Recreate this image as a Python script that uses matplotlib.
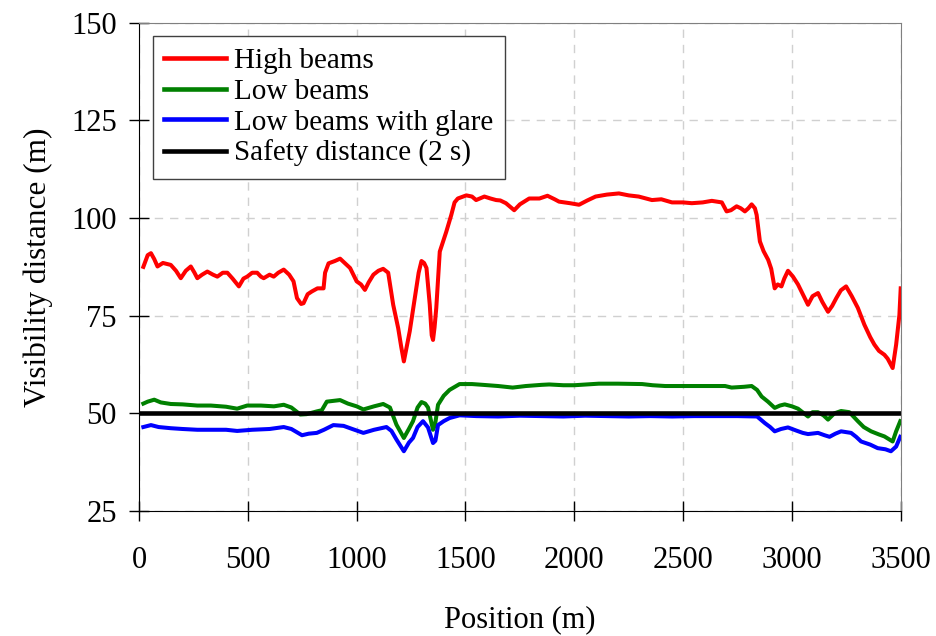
import matplotlib
matplotlib.use('Agg')
import matplotlib.pyplot as plt

plt.rcParams['font.family'] = ['Liberation Serif', 'DejaVu Serif']

# high beams (position m, visibility m)
high_x = [20, 40, 55, 70, 85, 110, 146, 170, 192, 215, 238, 255, 268, 290, 314, 340, 360, 385, 406, 430,
          459, 480, 497, 520, 543, 560, 573, 600, 619, 640, 665, 690, 710, 726, 745, 756, 775, 794, 820, 848,
          855, 871, 900, 924, 945, 970, 985, 1000, 1020, 1038, 1055, 1077, 1100, 1122, 1145, 1168, 1191, 1205,
          1217, 1230, 1244, 1267, 1285, 1298, 1310, 1321, 1336, 1345, 1351, 1358, 1366, 1382, 1412, 1435, 1450,
          1465, 1504, 1530, 1549, 1587, 1615, 1641, 1660, 1686, 1724, 1750, 1793, 1840, 1877, 1910, 1930, 1980,
          2022, 2060, 2098, 2150, 2205, 2250, 2296, 2357, 2400, 2449, 2500, 2540, 2590, 2632, 2678, 2700, 2720,
          2746, 2765, 2784, 2800, 2815, 2830, 2838, 2853, 2870, 2891, 2905, 2921, 2935, 2952, 2965, 2982, 3005,
          3028, 3050, 3074, 3095, 3120, 3140, 3166, 3185, 3204, 3225, 3249, 3275, 3303, 3333, 3360, 3379, 3400,
          3425, 3440, 3463, 3479, 3494, 3500]
high_y = [87.5, 90.5, 91, 89.5, 87.6, 88.5, 88, 86.5, 84.6, 86.5, 87.6, 86, 84.6, 85.5, 86.3, 85.5, 85, 86, 86, 84.5,
          82.5, 84.5, 85, 86, 86, 85, 84.6, 85.5, 85, 86, 86.8, 85.5, 83.8, 79.5, 78, 78.2, 80.5, 81.2, 82, 82,
          86, 88.4, 89, 89.6, 88.5, 87.2, 85.5, 83.8, 83, 81.6, 83.5, 85.5, 86.5, 87, 86, 77.8, 71.8, 67,
          63.3, 67, 71, 79.5, 86, 89, 88.5, 87.2, 77.8, 70, 68.8, 72, 77, 91.4, 96.5, 100.8, 104,
          105, 105.8, 105.5, 104.6, 105.5, 105, 104.6, 104.5, 103.8, 102, 103.5, 105, 105, 105.7, 104.8, 104.2, 103.8,
          103.4, 104.5, 105.5, 106, 106.3, 105.8, 105.5, 104.6, 104.8, 104, 104, 103.8, 104, 104.4, 104, 101.7, 102,
          103, 102.5, 101.7, 102.5, 103.5, 102.5, 100.8, 94, 91.5, 89.3, 87, 82, 83, 82.5, 84.5, 86.5, 85,
          83, 80.5, 77.8, 80, 80.8, 78.5, 76, 77.5, 79.5, 81.5, 82.5, 80, 77, 72.7, 69.5, 67.6, 66,
          65, 64, 61.6, 67.6, 75.2, 82]

# low beams
low_x = [20, 40, 70, 100, 146, 200, 268, 330, 400, 451, 497, 560, 620, 665, 700, 741, 770, 817, 840, 863,
         924, 960, 1000, 1031, 1080, 1122, 1153, 1183, 1217, 1240, 1259, 1280, 1298, 1315, 1328, 1351, 1360,
         1374, 1400, 1427, 1473, 1530, 1580, 1650, 1717, 1778, 1850, 1885, 1950, 2000, 2113, 2200, 2312, 2360,
         2418, 2550, 2693, 2723, 2780, 2815, 2840, 2861, 2890, 2921, 2945, 2967, 3000, 3028, 3074, 3095, 3120,
         3145, 3166, 3195, 3226, 3264, 3303, 3330, 3364, 3400, 3425, 3463, 3479, 3498]
low_y = [52.5, 53, 53.5, 52.8, 52.4, 52.3, 52, 52, 51.7, 51.2, 52, 52, 51.8, 52.2, 51.5, 49.7, 49.8, 50.5, 50.8, 53,
         53.4, 52.5, 51.8, 51, 51.8, 52.4, 51.5, 47.1, 43.7, 46, 48, 51.5, 52.9, 52.5, 51.5, 45.8, 47,
         52.2, 54.5, 56, 57.5, 57.5, 57.3, 57, 56.6, 57, 57.3, 57.4, 57.2, 57.2, 57.6, 57.6, 57.5, 57.2,
         57, 57, 57, 56.6, 56.8, 57, 56, 54.3, 53, 51.4, 52, 52.3, 51.8, 51.2, 49.2, 50.3, 50.3,
         49.5, 48.4, 50, 50.6, 50.3, 48, 46.5, 45.4, 44.6, 44.1, 42.8, 45.4, 48]

# low beams with glare
glare_x = [20, 55, 90, 146, 200, 268, 330, 400, 451, 520, 600, 665, 700, 749, 780, 817, 850, 893, 940, 980,
           1031, 1080, 1137, 1160, 1183, 1217, 1240, 1259, 1280, 1305, 1328, 1351, 1362, 1374, 1400, 1427, 1473,
           1550, 1650, 1750, 1850, 1950, 2050, 2150, 2250, 2350, 2450, 2550, 2650, 2750, 2840, 2876, 2900, 2921,
           2950, 2982, 3020, 3050, 3074, 3120, 3150, 3173, 3200, 3226, 3272, 3295, 3318, 3360, 3394, 3430, 3455,
           3479, 3498]
glare_y = [46.5, 47, 46.5, 46.2, 46, 45.8, 45.8, 45.8, 45.5, 45.8, 46, 46.5, 46, 44.4, 44.8, 45, 45.8, 47, 46.8, 46,
           45, 45.8, 46.5, 45.5, 43.3, 40.3, 42.5, 43.7, 46.5, 48, 46.4, 42.4, 43, 47, 48, 48.8, 49.5,
           49.3, 49.2, 49.4, 49.3, 49.2, 49.4, 49.3, 49.2, 49.3, 49.2, 49.3, 49.3, 49.3, 49.2, 47.5, 46.5, 45.4,
           46, 46.4, 45.6, 45, 44.7, 45, 44.4, 44, 44.8, 45.4, 45, 44, 42.8, 42, 41.1, 40.8, 40.3,
           41.5, 44]

safe_x = [0, 3500]
safe_y = [50, 50]

fig = plt.figure(figsize=(9.36, 6.36), dpi=100)
ax = fig.add_axes([0.1485, 0.1965, 0.8138, 0.7678])

ax.plot(high_x, high_y, color='#ff0000', lw=2.9, label='High beams')
ax.plot(low_x, low_y, color='#008000', lw=2.9, label='Low beams')
ax.plot(glare_x, glare_y, color='#0000ff', lw=2.9, label='Low beams with glare')
ax.plot(safe_x, safe_y, color='black', lw=3.3, label='Safety distance (2 s)')

ax.set_xlim(0, 3500)
ax.set_ylim(25, 150)
ax.set_xticks(range(0, 3501, 500))
ax.set_yticks(range(25, 151, 25))
ax.grid(True, color='#d0d0d0', linestyle=(0, (6, 5)), lw=1)
ax.set_axisbelow(True)

for s in ['top', 'right']:
    ax.spines[s].set_color('#808080')
for s in ['left', 'bottom']:
    ax.spines[s].set_color('black')
ax.tick_params(direction='inout', length=14, width=1, labelsize=22)
ax.tick_params(axis='x', pad=18)
ax.tick_params(axis='y', pad=9)

ax.set_xlabel('Position (m)', fontsize=22, labelpad=22)
ax.set_ylabel('Visibility distance (m)', fontsize=22.5, labelpad=13)

leg = ax.legend(loc='upper left', bbox_to_anchor=(0.018, 0.973), borderaxespad=0, fontsize=21,
                fancybox=False, framealpha=1, edgecolor='#404040', handlelength=2.1,
                labelspacing=0.15, handletextpad=0.3, borderpad=0.4)
leg.get_frame().set_linewidth(1)
for h in leg.get_lines():
    h.set_linewidth(3.3)

fig.savefig('out.png', dpi=100)
